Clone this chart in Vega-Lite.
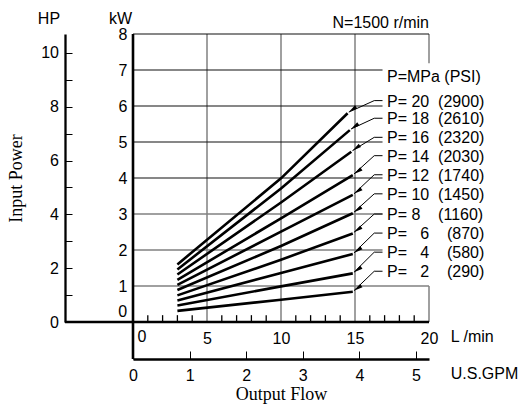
{
  "$schema": "https://vega.github.io/schema/vega-lite/v6.json",
  "width": 296,
  "height": 288,
  "autosize": {"type": "none"},
  "padding": {"left": 133, "top": 34, "right": 94, "bottom": 83},
  "background": "white",
  "config": {
    "view": {"stroke": null},
    "font": "Liberation Sans",
    "text": {"font": "Liberation Sans", "fontSize": 16, "color": "#000"},
    "axis": {"grid": false, "labelFont": "Liberation Sans", "labelFontSize": 16, "labelColor": "#000", "domainColor": "#000", "tickColor": "#000", "titleColor": "#000", "labelOverlap": false, "labelFlush": false, "labelBound": false}
  },
  "datasets": {
    "curves": [
      {"p": 2, "q": 3, "kw": 0.31}, {"p": 2, "q": 10, "kw": 0.62}, {"p": 2, "q": 14.85, "kw": 0.84},
      {"p": 4, "q": 3, "kw": 0.46}, {"p": 4, "q": 10, "kw": 0.99}, {"p": 4, "q": 14.85, "kw": 1.35},
      {"p": 6, "q": 3, "kw": 0.60}, {"p": 6, "q": 10, "kw": 1.36}, {"p": 6, "q": 14.85, "kw": 1.89},
      {"p": 8, "q": 3, "kw": 0.74}, {"p": 8, "q": 10, "kw": 1.73}, {"p": 8, "q": 14.85, "kw": 2.46},
      {"p": 10, "q": 3, "kw": 0.89}, {"p": 10, "q": 10, "kw": 2.11}, {"p": 10, "q": 14.85, "kw": 3.02},
      {"p": 12, "q": 3, "kw": 1.03}, {"p": 12, "q": 10, "kw": 2.51}, {"p": 12, "q": 14.85, "kw": 3.53},
      {"p": 14, "q": 3, "kw": 1.17}, {"p": 14, "q": 10, "kw": 2.88}, {"p": 14, "q": 14.85, "kw": 4.08},
      {"p": 16, "q": 3, "kw": 1.32}, {"p": 16, "q": 10, "kw": 3.32}, {"p": 16, "q": 14.75, "kw": 4.73},
      {"p": 18, "q": 3, "kw": 1.46}, {"p": 18, "q": 10, "kw": 3.71}, {"p": 18, "q": 14.65, "kw": 5.33},
      {"p": 20, "q": 3, "kw": 1.60}, {"p": 20, "q": 10, "kw": 3.99}, {"p": 20, "q": 14.5, "kw": 5.80}
    ],
    "leaders": [
      {"p": 20, "seq": 1, "q": 16.86, "kw": 6.15}, {"p": 20, "seq": 2, "q": 16.3, "kw": 6.15}, {"p": 20, "seq": 3, "q": 14.58, "kw": 5.83},
      {"p": 18, "seq": 1, "q": 16.86, "kw": 5.66}, {"p": 18, "seq": 2, "q": 16.3, "kw": 5.66}, {"p": 18, "seq": 3, "q": 14.73, "kw": 5.36},
      {"p": 16, "seq": 1, "q": 16.86, "kw": 5.13}, {"p": 16, "seq": 2, "q": 16.3, "kw": 5.13}, {"p": 16, "seq": 3, "q": 14.83, "kw": 4.76},
      {"p": 14, "seq": 1, "q": 16.86, "kw": 4.62}, {"p": 14, "seq": 2, "q": 16.3, "kw": 4.62}, {"p": 14, "seq": 3, "q": 14.93, "kw": 4.11},
      {"p": 12, "seq": 1, "q": 16.86, "kw": 4.09}, {"p": 12, "seq": 2, "q": 16.3, "kw": 4.09}, {"p": 12, "seq": 3, "q": 14.93, "kw": 3.56},
      {"p": 10, "seq": 1, "q": 16.86, "kw": 3.56}, {"p": 10, "seq": 2, "q": 16.3, "kw": 3.56}, {"p": 10, "seq": 3, "q": 14.93, "kw": 3.05},
      {"p": 8, "seq": 1, "q": 16.86, "kw": 3.00}, {"p": 8, "seq": 2, "q": 16.3, "kw": 3.00}, {"p": 8, "seq": 3, "q": 14.93, "kw": 2.49},
      {"p": 6, "seq": 1, "q": 16.86, "kw": 2.47}, {"p": 6, "seq": 2, "q": 16.3, "kw": 2.47}, {"p": 6, "seq": 3, "q": 14.93, "kw": 1.92},
      {"p": 4, "seq": 1, "q": 16.86, "kw": 1.94}, {"p": 4, "seq": 2, "q": 16.3, "kw": 1.94}, {"p": 4, "seq": 3, "q": 14.93, "kw": 1.38},
      {"p": 2, "seq": 1, "q": 16.86, "kw": 1.41}, {"p": 2, "seq": 2, "q": 16.3, "kw": 1.41}, {"p": 2, "seq": 3, "q": 14.93, "kw": 0.87}
    ],
    "labels": [
      {"label": "P=MPa (PSI)", "kw": 6.81},
      {"label": "P=\u00a020\u00a0\u00a0(2900)", "kw": 6.12},
      {"label": "P=\u00a018\u00a0\u00a0(2610)", "kw": 5.63},
      {"label": "P=\u00a016\u00a0\u00a0(2320)", "kw": 5.10},
      {"label": "P=\u00a014\u00a0\u00a0(2030)", "kw": 4.59},
      {"label": "P=\u00a012\u00a0\u00a0(1740)", "kw": 4.06},
      {"label": "P=\u00a010\u00a0\u00a0(1450)", "kw": 3.53},
      {"label": "P=\u00a08\u00a0\u00a0\u00a0\u00a0(1160)", "kw": 2.97},
      {"label": "P=\u00a0\u00a0\u00a06\u00a0\u00a0\u00a0\u00a0(870)", "kw": 2.44},
      {"label": "P=\u00a0\u00a0\u00a04\u00a0\u00a0\u00a0\u00a0(580)", "kw": 1.91},
      {"label": "P=\u00a0\u00a0\u00a02\u00a0\u00a0\u00a0\u00a0(290)", "kw": 1.38}
    ],
    "hgridDark": [
      {"kw": 8, "q1": 0, "q2": 20}, {"kw": 7, "q1": 0, "q2": 16.86}, {"kw": 6, "q1": 0, "q2": 16.86},
      {"kw": 5, "q1": 0, "q2": 16.86}, {"kw": 4, "q1": 0, "q2": 16.86}
    ],
    "hgridGray": [
      {"kw": 3, "q1": 0, "q2": 16.86}, {"kw": 2, "q1": 0, "q2": 16.86}, {"kw": 1, "q1": 0, "q2": 20}
    ],
    "vgrid": [
      {"q": 5, "kw1": 0, "kw2": 8}, {"q": 10, "kw1": 0, "kw2": 8}, {"q": 15, "kw1": 0, "kw2": 8},
      {"q": 20, "kw1": 0, "kw2": 1}, {"q": 20, "kw1": 7.19, "kw2": 8}
    ],
    "flowTicks": [
      {"q": 1}, {"q": 2}, {"q": 3}, {"q": 4}, {"q": 6}, {"q": 7}, {"q": 8}, {"q": 9},
      {"q": 11}, {"q": 12}, {"q": 13}, {"q": 14}, {"q": 16}, {"q": 17}, {"q": 18}, {"q": 19}
    ]
  },
  "layer": [
    {
      "layer": [
        {
          "data": {"name": "vgrid"},
          "mark": {"type": "rule", "color": "#808080", "strokeWidth": 1.5},
          "encoding": {
            "x": {"field": "q", "type": "quantitative", "scale": {"domain": [0, 20], "nice": false, "zero": false}, "axis": null},
            "y": {"field": "kw1", "type": "quantitative", "scale": {"domain": [0, 8], "nice": false, "zero": false}, "axis": null},
            "y2": {"field": "kw2"}
          }
        },
        {
          "data": {"name": "hgridDark"},
          "mark": {"type": "rule", "color": "#111", "strokeWidth": 1.1},
          "encoding": {
            "x": {"field": "q1", "type": "quantitative", "axis": null},
            "x2": {"field": "q2"},
            "y": {"field": "kw", "type": "quantitative", "axis": null}
          }
        },
        {
          "data": {"name": "hgridGray"},
          "mark": {"type": "rule", "color": "#808080", "strokeWidth": 1.5},
          "encoding": {
            "x": {"field": "q1", "type": "quantitative", "axis": null},
            "x2": {"field": "q2"},
            "y": {"field": "kw", "type": "quantitative", "axis": null}
          }
        },
        {
          "data": {"values": [{}]},
          "mark": {"type": "rule", "color": "#000", "strokeWidth": 2.4},
          "encoding": {
            "x": {"datum": -4.6, "type": "quantitative", "axis": null},
            "x2": {"datum": 20},
            "y": {"datum": 0, "type": "quantitative", "axis": null}
          }
        },
        {
          "data": {"name": "flowTicks"},
          "mark": {"type": "rule", "color": "#000", "strokeWidth": 1.3},
          "encoding": {
            "x": {"field": "q", "type": "quantitative", "axis": null},
            "y": {"datum": 0, "type": "quantitative", "axis": null},
            "y2": {"datum": 0.19}
          }
        },
        {
          "data": {"values": [{}]},
          "mark": {"type": "rule", "color": "#000", "strokeWidth": 2.6},
          "encoding": {
            "x": {"datum": 0, "type": "quantitative", "axis": null},
            "y": {"datum": -1.03, "type": "quantitative", "axis": null},
            "y2": {"datum": 8}
          }
        },
        {
          "data": {"name": "curves"},
          "mark": {"type": "line", "color": "#000", "strokeWidth": 2.6},
          "encoding": {
            "x": {"field": "q", "type": "quantitative", "axis": null},
            "y": {"field": "kw", "type": "quantitative", "axis": null},
            "detail": {"field": "p"}
          }
        },
        {
          "data": {"name": "leaders"},
          "mark": {"type": "line", "color": "#000", "strokeWidth": 1},
          "encoding": {
            "x": {"field": "q", "type": "quantitative", "axis": null},
            "y": {"field": "kw", "type": "quantitative", "axis": null},
            "detail": {"field": "p"},
            "order": {"field": "seq"}
          }
        },
        {
          "data": {"name": "leaders"},
          "transform": [{"filter": "datum.seq === 3"}],
          "mark": {"type": "point", "shape": "M0,0L0.945,-0.394L0.693,-0.754Z", "size": 324, "filled": true, "color": "#000", "opacity": 1},
          "encoding": {
            "x": {"field": "q", "type": "quantitative", "axis": null},
            "y": {"field": "kw", "type": "quantitative", "axis": null}
          }
        },
        {
          "data": {"name": "labels"},
          "mark": {"type": "text", "align": "left", "baseline": "middle", "fontSize": 16},
          "encoding": {
            "x": {"datum": 17.16, "type": "quantitative", "axis": null},
            "y": {"field": "kw", "type": "quantitative", "axis": null},
            "text": {"field": "label"}
          }
        },
        {
          "data": {"values": [{}]},
          "mark": {"type": "text", "text": "HP", "align": "center", "baseline": "middle", "fontSize": 16},
          "encoding": {
            "x": {"datum": -5.68, "type": "quantitative", "axis": null},
            "y": {"datum": 8.43, "type": "quantitative", "axis": null}
          }
        },
        {
          "data": {"values": [{}]},
          "mark": {"type": "text", "text": "kW", "align": "center", "baseline": "middle", "fontSize": 16},
          "encoding": {
            "x": {"datum": -0.84, "type": "quantitative", "axis": null},
            "y": {"datum": 8.43, "type": "quantitative", "axis": null}
          }
        },
        {
          "data": {"values": [{}]},
          "mark": {"type": "text", "text": "0", "align": "right", "baseline": "middle", "fontSize": 16},
          "encoding": {
            "x": {"datum": -0.4, "type": "quantitative", "axis": null},
            "y": {"datum": 0.29, "type": "quantitative", "axis": null}
          }
        },
        {
          "data": {"values": [{}]},
          "mark": {"type": "text", "text": "0", "align": "center", "baseline": "middle", "fontSize": 16},
          "encoding": {
            "x": {"datum": 0.6, "type": "quantitative", "axis": null},
            "y": {"datum": -0.41, "type": "quantitative", "axis": null}
          }
        },
        {
          "data": {"values": [{}]},
          "mark": {"type": "text", "text": "N=1500 r/min", "align": "right", "baseline": "middle", "fontSize": 16},
          "encoding": {
            "x": {"datum": 20, "type": "quantitative", "axis": null},
            "y": {"datum": 8.31, "type": "quantitative", "axis": null}
          }
        },
        {
          "data": {"values": [{}]},
          "mark": {"type": "text", "text": "L /min", "align": "left", "baseline": "middle", "fontSize": 16},
          "encoding": {
            "x": {"datum": 21.47, "type": "quantitative", "axis": null},
            "y": {"datum": -0.41, "type": "quantitative", "axis": null}
          }
        },
        {
          "data": {"values": [{}]},
          "mark": {"type": "text", "text": "U.S.GPM", "align": "left", "baseline": "middle", "fontSize": 16},
          "encoding": {
            "x": {"datum": 21.47, "type": "quantitative", "axis": null},
            "y": {"datum": -1.45, "type": "quantitative", "axis": null}
          }
        }
      ]
    },
    {
      "data": {"values": [{"kwv": 0}, {"kwv": 8}]},
      "mark": {"type": "point", "opacity": 0},
      "encoding": {
        "y": {"field": "kwv", "type": "quantitative", "scale": {"domain": [0, 8], "nice": false, "zero": false},
          "axis": {"orient": "left", "values": [1,2,3,4,5,6,7,8], "ticks": false, "domain": false, "labelOverlap": false, "labelPadding": 6, "title": null}}
      }
    },
    {
      "data": {"values": [{"qv": 0}, {"qv": 20}]},
      "mark": {"type": "point", "opacity": 0},
      "encoding": {
        "x": {"field": "qv", "type": "quantitative", "scale": {"domain": [0, 20], "nice": false, "zero": false},
          "axis": {"orient": "bottom", "values": [5, 10, 15, 20], "ticks": false, "domain": false,
            "labelOverlap": false, "labelPadding": 8, "title": null}}
      }
    },
    {
      "data": {"values": [{"hp": 0}, {"hp": 10}]},
      "mark": {"type": "point", "opacity": 0},
      "encoding": {
        "y": {"field": "hp", "type": "quantitative", "scale": {"domain": [0, 10.7], "nice": false, "zero": false},
          "axis": {"orient": "left", "offset": 68, "values": [0,1,2,3,4,5,6,7,8,9,10],
            "labelExpr": "datum.value % 2 === 0 ? datum.label : ''", "tickSize": -7, "tickWidth": 1, "domainWidth": 2.3,
            "labelOverlap": false, "labelPadding": 13.5, "title": "Input Power", "titleFont": "Liberation Serif", "titleFontSize": 18,
            "titleFontWeight": "normal", "titlePadding": 15}}
      }
    },
    {
      "data": {"values": [{"gpm": 0}, {"gpm": 5}]},
      "mark": {"type": "point", "opacity": 0},
      "encoding": {
        "x": {"field": "gpm", "type": "quantitative", "scale": {"domain": [0, 5.23], "nice": false, "zero": false},
          "axis": {"orient": "bottom", "offset": 37, "values": [0,1,2,3,4,5], "tickSize": -8, "tickWidth": 1, "domainWidth": 2.3,
            "labelOverlap": false, "labelPadding": 16.5, "title": "Output Flow", "titleFont": "Liberation Serif", "titleFontSize": 18,
            "titleFontWeight": "normal", "titlePadding": 2}}
      }
    }
  ],
  "resolve": {"scale": {"x": "independent", "y": "independent"}}
}
